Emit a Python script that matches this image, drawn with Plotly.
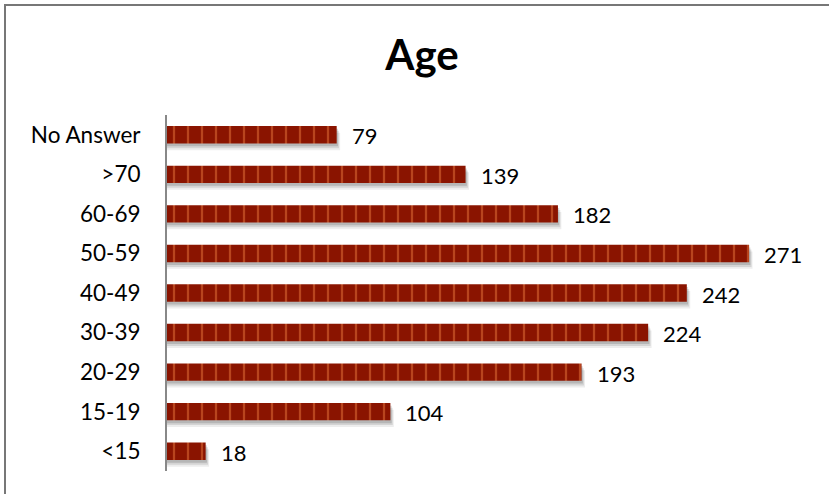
import plotly.graph_objects as go

# Age groups, listed top to bottom, with respondent counts
categories = ["No Answer", ">70", "60-69", "50-59", "40-49", "30-39", "20-29", "15-19", "<15"]
counts = [79, 139, 182, 271, 242, 224, 193, 104, 18]

W_PX, H_PX = 829, 494
M_L, M_R, M_T, M_B = 167, 20, 115, 23
PLOT_W = W_PX - M_L - M_R
PLOT_H = H_PX - M_T - M_B
PX_PER_UNIT = 2.148
x_max = PLOT_W / PX_PER_UNIT

BAR_W = 0.44
FONT = "Lato, Carlito, 'Open Sans', sans-serif"

fig = go.Figure()

# soft drop shadow under each bar
for dy, alpha, ext in [(0.17, 0.07, 1.6), (0.12, 0.10, 1.1), (0.07, 0.14, 0.6)]:
    fig.add_trace(go.Bar(
        y=categories, x=[c + ext for c in counts], orientation="h",
        width=BAR_W, offset=-BAR_W / 2 + dy,
        marker=dict(color=f"rgba(0,0,0,{alpha})", line=dict(width=0)),
        hoverinfo="skip", showlegend=False,
    ))

# striped dark-red bars
fig.add_trace(go.Bar(
    y=categories, x=counts, orientation="h",
    width=BAR_W, offset=-BAR_W / 2,
    marker=dict(
        color="#8a1400",
        line=dict(width=0),
        pattern=dict(shape="|", size=14, solidity=0.16,
                     fgcolor="#b8451e", bgcolor="#8a1400", fillmode="replace"),
    ),
    showlegend=False,
))

# value labels to the right of each bar
for cat, val in zip(categories, counts):
    fig.add_annotation(x=val, y=cat, text=str(val), showarrow=False,
                       xanchor="left", yanchor="middle", xshift=13, yshift=-1,
                       font=dict(family=FONT, size=22, color="#000000"))

def px_to_paper_x(px):
    return (px - M_L) / PLOT_W

def px_to_paper_y(py):
    return (H_PX - M_B - py) / PLOT_H

# outer chart frame (left and top edges)
frame = dict(type="line", xref="paper", yref="paper",
             line=dict(color="#777777", width=2))
fig.add_shape(**frame, x0=px_to_paper_x(5), x1=px_to_paper_x(5),
              y0=px_to_paper_y(4), y1=px_to_paper_y(H_PX + 2))
fig.add_shape(**frame, x0=px_to_paper_x(4), x1=px_to_paper_x(W_PX + 2),
              y0=px_to_paper_y(5), y1=px_to_paper_y(5))

fig.update_layout(
    width=W_PX, height=H_PX,
    margin=dict(l=M_L, r=M_R, t=M_T, b=M_B, pad=0),
    barmode="overlay",
    paper_bgcolor="white", plot_bgcolor="white",
    title=dict(text="<b>Age</b>", x=422 / W_PX,
               xanchor="center", y=1 - 55 / H_PX, yanchor="middle",
               font=dict(family=FONT, size=42, color="#000000")),
    xaxis=dict(range=[0, x_max], visible=False, fixedrange=True),
    yaxis=dict(autorange="reversed", showgrid=False, zeroline=False,
               showline=True, linecolor="#888888", linewidth=2,
               ticks="", ticklabelstandoff=20,
               tickfont=dict(family=FONT, size=22.5, color="#000000")),
    font=dict(family=FONT),
)

fig.write_html("out.html")
